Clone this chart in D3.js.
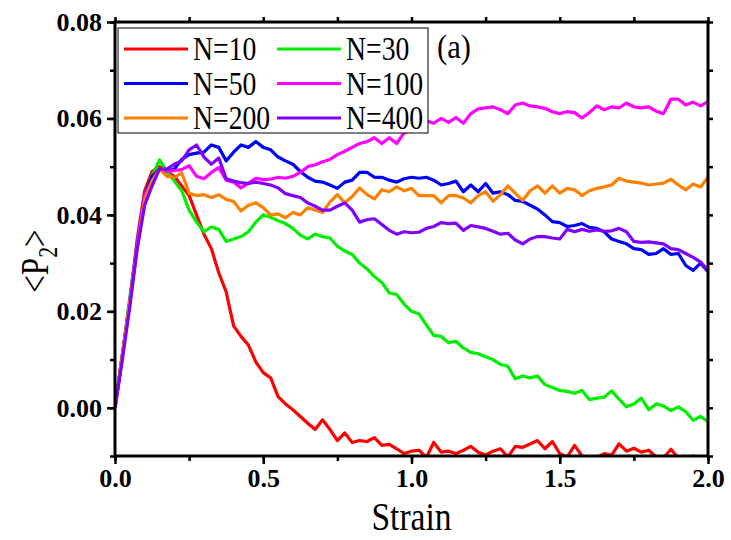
<!DOCTYPE html>
<html>
<head>
<meta charset="utf-8">
<script src="https://cdn.jsdelivr.net/npm/d3@7"></script>
<style>
  body { margin: 0; background: #fff; }
  svg { display: block; }
  text { font-family: "Liberation Serif", "Times New Roman", serif; }
</style>
</head>
<body>
<div id="chart"></div>
<script>
// strain grid: 0 .. 2.0 step 0.025
const strain = d3.range(0, 81).map(i => +(i * 0.025).toFixed(3));

const n10 = [0, 0.011, 0.022, 0.035, 0.045, 0.049, 0.050, 0.049, 0.048, 0.046,
  0.044, 0.040, 0.036, 0.033, 0.028, 0.024, 0.017, 0.0148, 0.013, 0.0095,
  0.0073, 0.0062, 0.0023, 0.0008, -0.0004, -0.0018, -0.0032, -0.0045, -0.0025, -0.0045,
  -0.0068, -0.0052, -0.0072, -0.0068, -0.0070, -0.0062, -0.0078, -0.0076, -0.0085, -0.0095,
  -0.0090, -0.0088, -0.0103, -0.0072, -0.0092, -0.0090, -0.0095, -0.0088, -0.0080, -0.0092,
  -0.0098, -0.0090, -0.0085, -0.0102, -0.0080, -0.0082, -0.0075, -0.0068, -0.0085, -0.0070,
  -0.0095, -0.0102, -0.0078, -0.0100, -0.0105, -0.0103, -0.0095, -0.0098, -0.0075, -0.0090,
  -0.0084, -0.0092, -0.0088, -0.0102, -0.0104, -0.0086, -0.0105, -0.0103, -0.0100, -0.0108,
  -0.0105];

const n30 = [0, 0.011, 0.023, 0.034, 0.044, 0.048, 0.0514, 0.049, 0.047, 0.045,
  0.041, 0.0385, 0.0365, 0.0375, 0.0370, 0.0345, 0.0350, 0.0355, 0.0365, 0.0385,
  0.0400, 0.0395, 0.0388, 0.0382, 0.0372, 0.0358, 0.0350, 0.0360, 0.0355, 0.0352,
  0.0335, 0.0325, 0.0318, 0.0300, 0.0288, 0.0272, 0.0260, 0.0238, 0.0235, 0.0215,
  0.0200, 0.0195, 0.0172, 0.0150, 0.0148, 0.0135, 0.0138, 0.0124, 0.0115, 0.0112,
  0.0106, 0.0100, 0.0090, 0.0086, 0.0060, 0.0066, 0.0062, 0.0066, 0.0048, 0.0042,
  0.0036, 0.0034, 0.0030, 0.0036, 0.0017, 0.0020, 0.0022, 0.0035, 0.0018, 0.0002,
  0.0008, 0.0020, -0.0004, 0.0008, 0.0004, -0.0006, 0.0002, -0.0008, -0.0026, -0.0018,
  -0.0029];

const n50 = [0, 0.011, 0.022, 0.034, 0.044, 0.048, 0.0495, 0.0490, 0.0495, 0.0515,
  0.0525, 0.0528, 0.0530, 0.0545, 0.0540, 0.0512, 0.0530, 0.0545, 0.0540, 0.0552,
  0.0540, 0.0535, 0.0520, 0.0512, 0.0505, 0.0490, 0.0478, 0.0470, 0.0468, 0.0462,
  0.0455, 0.0468, 0.0472, 0.0488, 0.0488, 0.0478, 0.0478, 0.0472, 0.0468, 0.0475,
  0.0478, 0.0476, 0.0478, 0.0472, 0.0462, 0.0465, 0.0470, 0.0448, 0.0462, 0.0448,
  0.0465, 0.0445, 0.0448, 0.0442, 0.0430, 0.0428, 0.0420, 0.0412, 0.0400, 0.0386,
  0.0384, 0.0376, 0.0378, 0.0382, 0.0374, 0.0372, 0.0365, 0.0350, 0.0345, 0.0340,
  0.0330, 0.0328, 0.0318, 0.0320, 0.0330, 0.0318, 0.0320, 0.0295, 0.0285, 0.0300,
  0.0282];

const n100 = [0, 0.011, 0.022, 0.034, 0.044, 0.047, 0.0495, 0.0490, 0.0492, 0.0494,
  0.0502, 0.0480, 0.0475, 0.0488, 0.0498, 0.0472, 0.0468, 0.0456, 0.0466, 0.0476,
  0.0473, 0.0474, 0.0478, 0.0476, 0.0480, 0.0488, 0.0500, 0.0504, 0.0510, 0.0515,
  0.0525, 0.0532, 0.0540, 0.0548, 0.0552, 0.0560, 0.0548, 0.0560, 0.0548, 0.0570,
  0.0576, 0.0588, 0.0595, 0.0590, 0.0600, 0.0592, 0.0602, 0.0590, 0.0610, 0.0620,
  0.0622, 0.0624, 0.0618, 0.0610, 0.0628, 0.0632, 0.0626, 0.0624, 0.0621, 0.0614,
  0.0610, 0.0614, 0.0612, 0.0601, 0.0612, 0.0626, 0.0618, 0.0624, 0.0622, 0.0632,
  0.0624, 0.0622, 0.0624, 0.0615, 0.0610, 0.0640, 0.0640, 0.0628, 0.0634, 0.0626,
  0.0635];

const n200 = [0, 0.011, 0.022, 0.033, 0.043, 0.047, 0.0495, 0.0480, 0.0478, 0.0487,
  0.0445, 0.0440, 0.0442, 0.0436, 0.0442, 0.0432, 0.0428, 0.0408, 0.0420, 0.0425,
  0.0415, 0.0400, 0.0402, 0.0394, 0.0405, 0.0400, 0.0415, 0.0410, 0.0405, 0.0427,
  0.0442, 0.0425, 0.0438, 0.0456, 0.0442, 0.0433, 0.0452, 0.0448, 0.0458, 0.0450,
  0.0455, 0.0440, 0.0440, 0.0440, 0.0425, 0.0440, 0.0440, 0.0435, 0.0425, 0.0440,
  0.0448, 0.0428, 0.0442, 0.0460, 0.0445, 0.0430, 0.0450, 0.0460, 0.0445, 0.0460,
  0.0445, 0.0455, 0.0452, 0.0440, 0.0450, 0.0455, 0.0458, 0.0462, 0.0476, 0.0470,
  0.0468, 0.0466, 0.0462, 0.0464, 0.0466, 0.0474, 0.0462, 0.0452, 0.0464, 0.0458,
  0.0478];

const n400 = [0, 0.010, 0.021, 0.033, 0.042, 0.046, 0.0495, 0.0495, 0.0505, 0.0512,
  0.0535, 0.0545, 0.0520, 0.0505, 0.0518, 0.0475, 0.0470, 0.0467, 0.0465, 0.0468,
  0.0465, 0.0462, 0.0456, 0.0444, 0.0440, 0.0436, 0.0425, 0.0418, 0.0410, 0.0410,
  0.0418, 0.0425, 0.0410, 0.0385, 0.0390, 0.0392, 0.0380, 0.0368, 0.0360, 0.0365,
  0.0363, 0.0364, 0.0372, 0.0376, 0.0384, 0.0382, 0.0383, 0.0368, 0.0378, 0.0375,
  0.0372, 0.0366, 0.0360, 0.0362, 0.0348, 0.0340, 0.0350, 0.0355, 0.0355, 0.0352,
  0.0350, 0.0370, 0.0365, 0.0370, 0.0366, 0.0369, 0.0366, 0.0367, 0.0372, 0.0365,
  0.0345, 0.0343, 0.0344, 0.0342, 0.0340, 0.0330, 0.0328, 0.0320, 0.0312, 0.0302,
  0.0285];

const seriesNames = ["N=10", "N=30", "N=50", "N=100", "N=200", "N=400"];
const seriesValues = [n10, n30, n50, n100, n200, n400];
const seriesColors = ["#ff0000", "#00ee00", "#0000ff", "#ff00ff", "#ff8000", "#8000ff"];

const xTicks = [0, 0.5, 1.0, 1.5, 2.0];
const yTicks = [0, 0.02, 0.04, 0.06, 0.08];

const width = 731, height = 540;
const margin = { top: 22, right: 23, bottom: 84, left: 115 };
const w = width - margin.left - margin.right;
const h = height - margin.top - margin.bottom;

const svg = d3.select("#chart").append("svg")
  .attr("width", width)
  .attr("height", height);

const g = svg.append("g").attr("transform", `translate(${margin.left},${margin.top})`);

const x = d3.scaleLinear().domain([0, 2]).range([0, w]);
const y = d3.scaleLinear().domain([-0.01, 0.08]).range([h, 0]);

// clip so lines stop at the frame
g.append("clipPath").attr("id", "clip")
  .append("rect").attr("width", w).attr("height", h);

const line = d3.line()
  .x((d, i) => x(strain[i]))
  .y(d => y(d));

seriesValues.forEach((vals, k) => {
  g.append("path")
    .datum(vals)
    .attr("clip-path", "url(#clip)")
    .attr("fill", "none")
    .attr("stroke", seriesColors[k])
    .attr("stroke-width", 3.2)
    .attr("stroke-linejoin", "round")
    .attr("d", line);
});

// axes (ticks outward on all four sides)
const minorX = d3.range(0, 2.001, 0.25);
const minorY = d3.range(-0.01, 0.0801, 0.01);

function styleAxis(sel) {
  sel.attr("font-family", null);
  sel.select(".domain").remove();
  sel.selectAll(".tick line").attr("stroke", "#000").attr("stroke-width", 2.5);
  sel.selectAll(".tick text")
    .attr("fill", "#000")
    .style("font-size", "26px")
    .style("font-weight", "bold");
}

g.append("g").attr("transform", `translate(0,${h})`)
  .call(d3.axisBottom(x).tickValues(minorX).tickSize(5).tickFormat(""))
  .call(styleAxis);
g.append("g").attr("transform", `translate(0,${h})`)
  .call(d3.axisBottom(x).tickValues(xTicks).tickSize(8).tickPadding(5).tickFormat(d3.format(".1f")))
  .call(styleAxis);

g.append("g")
  .call(d3.axisTop(x).tickValues(minorX).tickSize(5).tickFormat(""))
  .call(styleAxis);

g.append("g")
  .call(d3.axisLeft(y).tickValues(minorY).tickSize(5).tickFormat(""))
  .call(styleAxis);
g.append("g")
  .call(d3.axisLeft(y).tickValues(yTicks).tickSize(8).tickPadding(5).tickFormat(d3.format(".2f")))
  .call(styleAxis);

g.append("g").attr("transform", `translate(${w},0)`)
  .call(d3.axisRight(y).tickValues(minorY).tickSize(5).tickFormat(""))
  .call(styleAxis);

// frame
g.append("rect")
  .attr("width", w).attr("height", h)
  .attr("fill", "none").attr("stroke", "#000").attr("stroke-width", 3);

// axis titles (the original lettering is a narrow Times, so squeeze it)
svg.append("text")
  .attr("transform", `translate(${margin.left + w / 2},530) scale(0.86,1)`)
  .attr("text-anchor", "middle")
  .style("font-size", "39px")
  .text("Strain");

const yl = svg.append("text")
  .attr("transform", `translate(48,${margin.top + h / 2 + 22}) rotate(-90) scale(0.78,1)`)
  .attr("text-anchor", "middle")
  .style("font-size", "40px");
yl.append("tspan").text("<P");
yl.append("tspan").attr("dy", 9).style("font-size", "28px").text("2");
yl.append("tspan").attr("dy", -9).text(">");

// panel label
svg.append("text")
  .attr("transform", "translate(437,58) scale(0.9,1)")
  .style("font-size", "34px")
  .text("(a)");

// legend
const lg = svg.append("g");
lg.append("rect")
  .attr("x", 118).attr("y", 28).attr("width", 310).attr("height", 105)
  .attr("fill", "#fff").attr("stroke", "#000").attr("stroke-width", 1);

seriesNames.forEach((name, k) => {
  const col = k % 2, row = Math.floor(k / 2);
  const lx = 124 + col * 153;
  const ly = 49 + row * 34.5;
  lg.append("line")
    .attr("x1", lx).attr("x2", lx + 64)
    .attr("y1", ly).attr("y2", ly)
    .attr("stroke", seriesColors[k]).attr("stroke-width", 3);
  lg.append("text")
    .attr("transform", `translate(${lx + 69},${ly + 11}) scale(0.84,1)`)
    .style("font-size", "33px")
    .text(name);
});
</script>
</body>
</html>
